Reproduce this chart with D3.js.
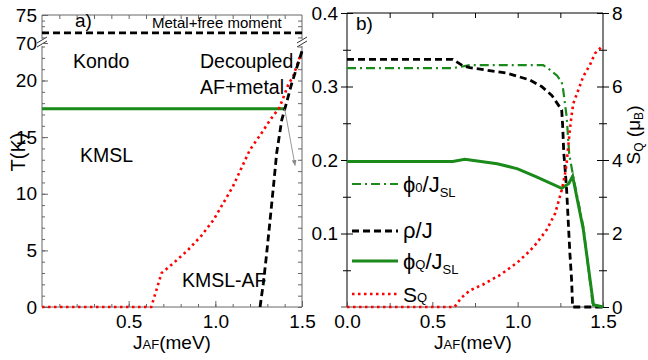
<!DOCTYPE html>
<html>
<head>
<meta charset="utf-8">
<script src="https://d3js.org/d3.v7.min.js"></script>
<style>
  body { margin: 0; background: #fff; }
  svg { display: block; font-family: "Liberation Sans", Arial, sans-serif; }
  .axis text { font-family: "Liberation Sans", Arial, sans-serif; font-size: 19px; fill: #000; }
</style>
</head>
<body>
<div class="content"></div>
<script>
// ---- panel a data (J_AF in meV, T in K) ----
var kondoJ = [0, 1.40];
var kondoT = [17.5, 17.5];
var freeMomentJ = [0, 1.5];
var freeMomentT = [71.8, 71.8];
var afJ = [1.258, 1.277, 1.296, 1.316, 1.335, 1.354, 1.383, 1.41, 1.44, 1.49, 1.5];
var afT = [0, 2.1, 4.7, 7.7, 10.6, 13.6, 16.5, 18.0, 19.7, 22.1, 22.6];
var sqJ = [0, 0.63, 0.66, 0.69, 0.76, 0.84, 0.92, 0.99, 1.10, 1.20, 1.26, 1.32, 1.37, 1.42, 1.45, 1.49];
var sqT = [0, 0, 1.5, 3.0, 3.9, 5.0, 6.3, 7.7, 10.6, 13.9, 15.2, 16.6, 17.6, 19.6, 20.4, 22.2];
var arrowJ = [1.40, 1.46];
var arrowT = [17.5, 12.5];

var aXTicks = [0.5, 1.0, 1.5];
var aYTicksLow = [0, 5, 10, 15, 20];
var aYTicksHigh = [70, 75];

// ---- panel b data ----
var phi0J = [0, 0.62, 0.72, 1.07, 1.15, 1.19, 1.23, 1.258, 1.267, 1.287, 1.302, 1.316, 1.326, 1.385, 1.44, 1.5];
var phi0V = [0.325, 0.325, 0.329, 0.329, 0.329, 0.3225, 0.315, 0.306, 0.295, 0.259, 0.208, 0.19, 0.177, 0.109, 0.003, 0];
var rhoJ = [0, 0.62, 0.68, 0.72, 0.94, 1.07, 1.14, 1.20, 1.258, 1.264, 1.27, 1.277, 1.287, 1.296, 1.306, 1.316, 1.322, 1.5];
var rhoV = [0.337, 0.337, 0.328, 0.3256, 0.318, 0.309, 0.300, 0.288, 0.268, 0.245, 0.21, 0.191, 0.159, 0.118, 0.073, 0.037, 0, 0];
var phiQJ = [0, 0.62, 0.69, 0.88, 1.0, 1.11, 1.258, 1.30, 1.322, 1.385, 1.444, 1.5];
var phiQV = [0.198, 0.198, 0.201, 0.195, 0.188, 0.177, 0.1615, 0.168, 0.178, 0.105, 0.003, 0];
var sQJ = [0, 0.63, 0.67, 0.72, 0.8, 0.9, 1.0, 1.07, 1.11, 1.17, 1.22, 1.258, 1.277, 1.287, 1.296, 1.306, 1.316, 1.326, 1.355, 1.384, 1.424, 1.453, 1.49];
var sQV = [0, 0, 0.25, 0.45, 0.62, 0.88, 1.22, 1.52, 1.73, 2.1, 2.55, 3.18, 3.6, 3.91, 4.36, 4.82, 5.22, 5.54, 5.9, 6.27, 6.59, 6.9, 7.07];

var bXTicks = [0, 0.5, 1.0, 1.5];
var bYLeftTicks = [0.1, 0.2, 0.3, 0.4];
var bYRightTicks = [0, 2, 4, 6, 8];

var green = "#1a8a1a";
var red = "#ff0000";
var frameGrey = "#666";

var svg = d3.select("div.content").append("svg")
    .attr("width", 648)
    .attr("height", 360);
svg.append("rect").attr("width", 648).attr("height", 360).attr("fill", "#fff");

function styleAxis(g, color){
    g.attr("class", "axis").attr("font-size", null).attr("font-family", null);
    g.select(".domain").remove();
    g.selectAll(".tick line").attr("stroke", color).attr("stroke-width", 1);
}

// ================= panel a =================
var xA = d3.scaleLinear().domain([0, 1.5]).range([42, 302]);
var yALow = d3.scaleLinear().domain([0, 23.4]).range([307, 42]);
var yAHigh = d3.scaleLinear().domain([70, 75]).range([43, 15]);

var pa = svg.append("g");

// frame
pa.append("line").attr("x1", 42).attr("x2", 302).attr("y1", 15).attr("y2", 15).attr("stroke", frameGrey);
pa.append("line").attr("x1", 42).attr("x2", 302).attr("y1", 307).attr("y2", 307).attr("stroke", frameGrey);
[42, 302].forEach(function(x){
    pa.append("line").attr("x1", x).attr("x2", x).attr("y1", 15).attr("y2", 39).attr("stroke", frameGrey);
    pa.append("line").attr("x1", x).attr("x2", x).attr("y1", 46).attr("y2", 307).attr("stroke", frameGrey);
    [0, 4].forEach(function(o){
        pa.append("line")
            .attr("x1", x - 5).attr("y1", 43 + o)
            .attr("x2", x + 5).attr("y2", 37 + o)
            .attr("stroke", "#333").attr("stroke-width", 1);
    });
});

// y axes (left with labels, right mirror)
pa.append("g").attr("transform", "translate(42,0)")
    .call(d3.axisLeft(yALow).tickValues(d3.range(0, 24, 1)).tickSize(-3).tickFormat(""))
    .call(styleAxis, frameGrey);
pa.append("g").attr("transform", "translate(42,0)")
    .call(d3.axisLeft(yALow).tickValues(aYTicksLow).tickSize(-6).tickPadding(5).tickFormat(d3.format("d")))
    .call(styleAxis, frameGrey);
pa.append("g").attr("transform", "translate(42,0)")
    .call(d3.axisLeft(yAHigh).tickValues([71, 72, 73, 74]).tickSize(-3).tickFormat(""))
    .call(styleAxis, frameGrey);
pa.append("g").attr("transform", "translate(42,0)")
    .call(d3.axisLeft(yAHigh).tickValues(aYTicksHigh).tickSize(-6).tickPadding(5).tickFormat(d3.format("d")))
    .call(styleAxis, frameGrey);
pa.append("g").attr("transform", "translate(302,0)")
    .call(d3.axisRight(yALow).tickValues(d3.range(0, 24, 1)).tickSize(-4).tickFormat(""))
    .call(styleAxis, frameGrey);
pa.append("g").attr("transform", "translate(302,0)")
    .call(d3.axisRight(yAHigh).tickValues(d3.range(71, 75, 1)).tickSize(-4).tickFormat(""))
    .call(styleAxis, frameGrey);

// x axes
pa.append("g").attr("transform", "translate(0,307)")
    .call(d3.axisBottom(xA).tickValues(d3.range(0.1, 1.5, 0.1)).tickSize(-3).tickFormat(""))
    .call(styleAxis, frameGrey);
pa.append("g").attr("transform", "translate(0,307)")
    .call(d3.axisBottom(xA).tickValues(aXTicks).tickSize(-6).tickPadding(8).tickFormat(d3.format(".1f")))
    .call(styleAxis, frameGrey);
pa.append("g").attr("transform", "translate(0,15)")
    .call(d3.axisTop(xA).tickValues(d3.range(0.1, 1.5, 0.1)).tickSize(-4).tickFormat(""))
    .call(styleAxis, frameGrey);

// curves
var lineA = d3.line().x(function(d){return xA(d[0]);}).y(function(d){return yALow(d[1]);});
pa.append("path").datum(d3.zip(kondoJ, kondoT)).attr("d", lineA)
    .attr("fill", "none").attr("stroke", green).attr("stroke-width", 3);
pa.append("path").datum(d3.zip(sqJ, sqT)).attr("d", lineA)
    .attr("fill", "none").attr("stroke", red).attr("stroke-width", 2.6).attr("stroke-dasharray", "2.5,3.5");
pa.append("path").datum(d3.zip(afJ, afT)).attr("d", lineA)
    .attr("fill", "none").attr("stroke", "#000").attr("stroke-width", 2.8).attr("stroke-dasharray", "7,4");
pa.append("path").datum(d3.zip(freeMomentJ, freeMomentT))
    .attr("d", d3.line().x(function(d){return xA(d[0]);}).y(function(d){return yAHigh(d[1]);}))
    .attr("fill", "none").attr("stroke", "#000").attr("stroke-width", 2.8).attr("stroke-dasharray", "7,4");

// annotation arrow
svg.append("defs").append("marker")
    .attr("id", "arr").attr("viewBox", "0 0 10 10").attr("refX", 9).attr("refY", 5)
    .attr("markerWidth", 6).attr("markerHeight", 6).attr("orient", "auto")
    .append("path").attr("d", "M0,1 L10,5 L0,9 Z").attr("fill", "#888");
pa.append("path").datum(d3.zip(arrowJ, arrowT)).attr("d", lineA)
    .attr("fill", "none").attr("stroke", "#999").attr("stroke-width", 1)
    .attr("marker-end", "url(#arr)");

// texts
function label(g, x, y, size, txt){
    return g.append("text").attr("x", x).attr("y", y).attr("font-size", size).text(txt);
}
label(pa, 75, 27, 19, "a)");
label(pa, 152, 28, 15, "Metal+free moment");
label(pa, 73, 68, 19.5, "Kondo");
label(pa, 200, 68, 19.5, "Decoupled");
label(pa, 200, 94, 19.5, "AF+metal");
label(pa, 80, 162, 19.5, "KMSL");
label(pa, 182, 287, 19.5, "KMSL-AF");

pa.append("text").attr("transform", "translate(25,152) rotate(-90)")
    .attr("text-anchor", "middle").attr("font-size", 20).text("T(K)");

function jLabel(g, cx){
    var t = g.append("text").attr("x", cx).attr("y", 349).attr("text-anchor", "middle").attr("font-size", 19);
    t.append("tspan").text("J");
    t.append("tspan").attr("font-size", 13).text("AF");
    t.append("tspan").text("(meV)");
}
jLabel(pa, 172);

// ================= panel b =================
var xB = d3.scaleLinear().domain([0, 1.5]).range([347, 603]);
var yB = d3.scaleLinear().domain([0, 0.4]).range([307, 13]);
var yBR = d3.scaleLinear().domain([0, 8]).range([307, 13]);

var pb = svg.append("g");

pb.append("line").attr("x1", 341).attr("x2", 603).attr("y1", 307).attr("y2", 307).attr("stroke", "#888").attr("stroke-width", 1.5);
pb.append("line").attr("x1", 347).attr("x2", 603).attr("y1", 13).attr("y2", 13).attr("stroke", "#000");
pb.append("line").attr("x1", 347).attr("x2", 347).attr("y1", 13).attr("y2", 307).attr("stroke", "#000");
pb.append("line").attr("x1", 603).attr("x2", 603).attr("y1", 13).attr("y2", 307).attr("stroke", "#000");

function crossTicks(g, len){
    g.selectAll(".tick line").attr("x1", -len).attr("x2", len);
}

// left axis
pb.append("g").attr("transform", "translate(347,0)")
    .call(d3.axisLeft(yB).tickValues([0.05, 0.15, 0.25, 0.35]).tickSize(4).tickFormat(""))
    .call(styleAxis, "#000").call(crossTicks, 4);
pb.append("g").attr("transform", "translate(347,0)")
    .call(d3.axisLeft(yB).tickValues(bYLeftTicks).tickSize(6).tickPadding(3).tickFormat(d3.format(".1f")))
    .call(styleAxis, "#000").call(crossTicks, 6);
// right axis
pb.append("g").attr("transform", "translate(603,0)")
    .call(d3.axisRight(yBR).tickValues([1, 3, 5, 7]).tickSize(4).tickFormat(""))
    .call(styleAxis, "#000").call(crossTicks, 4);
pb.append("g").attr("transform", "translate(603,0)")
    .call(d3.axisRight(yBR).tickValues(bYRightTicks).tickSize(6).tickPadding(3).tickFormat(d3.format("d")))
    .call(styleAxis, "#000").call(crossTicks, 6);
// x axes
pb.append("g").attr("transform", "translate(0,307)")
    .call(d3.axisBottom(xB).tickValues([0.25, 0.75, 1.25]).tickSize(-4).tickFormat(""))
    .call(styleAxis, "#555");
pb.append("g").attr("transform", "translate(0,307)")
    .call(d3.axisBottom(xB).tickValues(bXTicks).tickSize(-5).tickPadding(8).tickFormat(d3.format(".1f")))
    .call(styleAxis, "#555");
pb.append("g").attr("transform", "translate(0,13)")
    .call(d3.axisTop(xB).tickValues([0.25, 0.5, 0.75, 1.0, 1.25]).tickSize(-5).tickFormat(""))
    .call(styleAxis, "#000");

// curves
var lineB = d3.line().x(function(d){return xB(d[0]);}).y(function(d){return yB(d[1]);});
var lineBR = d3.line().x(function(d){return xB(d[0]);}).y(function(d){return yBR(d[1]);});

var series = [
    {name: "phi0", data: d3.zip(phi0J, phi0V), gen: lineB, color: green, width: 2.2, dash: "9,4,2,4"},
    {name: "rho", data: d3.zip(rhoJ, rhoV), gen: lineB, color: "#000", width: 2.8, dash: "7,4"},
    {name: "phiQ", data: d3.zip(phiQJ, phiQV), gen: lineB, color: green, width: 3, dash: null},
    {name: "sq", data: d3.zip(sQJ, sQV), gen: lineBR, color: red, width: 2.6, dash: "2.5,3.5"}
];
series.forEach(function(s){
    pb.append("path").datum(s.data).attr("d", s.gen)
        .attr("fill", "none").attr("stroke", s.color).attr("stroke-width", s.width)
        .attr("stroke-dasharray", s.dash);
});

// legend
var legendY = [184, 231, 261, 294];
series.forEach(function(s, i){
    pb.append("line").attr("x1", 352).attr("x2", 398).attr("y1", legendY[i]).attr("y2", legendY[i])
        .attr("stroke", s.color).attr("stroke-width", s.width).attr("stroke-dasharray", s.dash);
});
var lt;
lt = pb.append("text").attr("x", 403).attr("y", legendY[0] + 8).attr("font-size", 22);
lt.append("tspan").text("ϕ");
lt.append("tspan").attr("font-size", 13).text("0");
lt.append("tspan").text("/J");
lt.append("tspan").attr("font-size", 13).attr("dy", 5).text("SL");
lt = pb.append("text").attr("x", 403).attr("y", legendY[1] + 7).attr("font-size", 22);
lt.append("tspan").text("ρ/J");
lt = pb.append("text").attr("x", 403).attr("y", legendY[2] + 8).attr("font-size", 22);
lt.append("tspan").text("ϕ");
lt.append("tspan").attr("font-size", 13).text("Q");
lt.append("tspan").text("/J");
lt.append("tspan").attr("font-size", 13).attr("dy", 5).text("SL");
lt = pb.append("text").attr("x", 403).attr("y", legendY[3] + 8).attr("font-size", 21);
lt.append("tspan").text("S");
lt.append("tspan").attr("font-size", 13).text("Q");

label(pb, 356, 30, 19, "b)");
jLabel(pb, 473);

var rl = pb.append("text").attr("transform", "translate(640,135) rotate(-90)")
    .attr("text-anchor", "middle").attr("font-size", 19);
rl.append("tspan").text("S");
rl.append("tspan").attr("font-size", 12).attr("dy", 3).text("Q");
rl.append("tspan").attr("dy", -3).text(" (μ");
rl.append("tspan").attr("font-size", 12).attr("dy", 3).text("B");
rl.append("tspan").attr("dy", -3).text(")");
</script>
</body>
</html>
